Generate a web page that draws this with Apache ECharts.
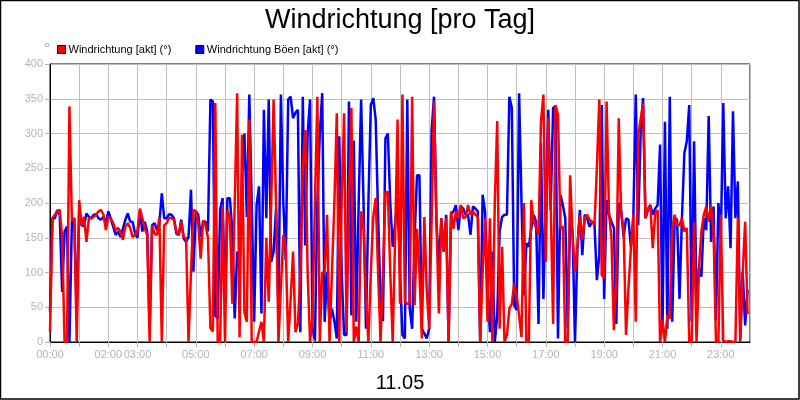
<!DOCTYPE html>
<html>
<head>
<meta charset="utf-8">
<title>Windrichtung</title>
<script src="https://cdn.jsdelivr.net/npm/echarts@6/dist/echarts.min.js"></script>
<style>
html,body{margin:0;padding:0;background:#fff;}
#chart{width:800px;height:400px;}
</style>
</head>
<body>
<div id="chart"></div>
<script>
var titleText = 'Windrichtung [pro Tag]';
var dayText = '11.05';
var nameAkt = 'Windrichtung [akt] (°)';
var nameBoeen = 'Windrichtung Böen [akt] (°)';
var stepMin = 5; //Messintervall in Minuten

//beschriftete Stunden der x-Achse
var xLabels = ['00:00','02:00','03:00','05:00','07:00','09:00','11:00','13:00','15:00','17:00','19:00','21:00','23:00'];

//Windrichtung (alle 5 min)
var akt = [
14,178,183,188,190,151,0,0,339,175,178,0,204,168,180,144,178,178,180,183,
188,190,183,161,180,178,171,161,164,159,147,166,171,164,151,154,161,192,178,163,
154,0,168,156,154,180,0,168,171,179,178,176,159,154,173,151,149,0,100,190,
188,170,120,175,168,150,20,15,344,0,0,197,0,190,180,55,200,358,7,298,
43,29,320,0,0,0,15,29,0,150,58,200,349,200,0,80,154,135,0,60,
130,14,26,100,250,305,100,0,36,200,353,0,100,100,183,0,100,200,329,0,
200,329,14,200,337,0,22,0,188,163,60,0,100,180,207,100,0,100,216,216,
100,0,150,320,55,356,58,55,55,353,53,163,100,5,180,75,19,173,346,173,
41,178,130,178,0,188,163,188,178,197,178,180,197,183,188,183,180,0,100,178,
29,178,0,200,318,19,137,0,10,48,55,84,67,38,7,200,0,0,204,173,
164,154,317,356,115,322,200,26,341,327,163,166,0,0,240,154,100,139,183,147,
178,183,176,173,168,250,349,96,92,346,185,149,17,90,322,183,164,10,77,135,
183,29,298,320,344,178,192,197,135,185,190,0,31,0,38,34,161,183,168,168,
178,159,164,0,0,173,0,106,159,183,195,173,195,159,0,0,183,2,0,1,
1,0,0,178,0,100,173,40
];

//Windrichtung Böen (alle 5 min)
var boeen = [
43,178,178,190,183,72,159,166,0,173,178,34,188,168,167,185,180,178,183,184,
178,176,180,171,188,178,166,154,159,151,163,176,185,173,173,156,150,188,159,173,
159,19,168,171,161,171,214,178,178,184,183,178,156,154,176,149,144,151,219,101,
188,183,151,173,173,159,349,346,38,34,190,207,55,207,207,160,34,130,100,240,
300,180,356,200,29,197,224,41,334,178,349,115,130,192,50,356,200,118,349,353,
322,330,334,14,353,139,300,349,20,2,200,300,358,29,101,29,48,30,5,296,
100,10,10,346,38,290,29,200,349,200,19,200,341,351,320,180,60,30,293,300,
200,137,170,207,100,10,5,349,48,19,150,240,240,19,12,5,19,303,353,173,
110,178,130,183,0,183,188,197,161,195,192,183,183,154,195,192,188,0,212,188,
77,14,130,0,38,159,180,183,183,353,337,53,46,358,200,67,142,137,163,183,
173,26,286,62,210,334,190,337,339,5,212,197,178,19,173,159,0,135,190,125,
183,178,166,173,171,89,125,341,62,204,183,173,164,26,200,190,151,178,176,137,
178,356,168,300,351,178,190,197,183,192,197,284,14,317,19,353,29,178,176,62,
178,272,289,341,29,289,53,106,94,178,161,325,144,195,31,200,149,344,178,224,
135,332,178,231,5,101,24,75
];

var labelColor = '#b4b4b4';
var gridColor = '#c0c0c0';

//Werte mit Uhrzeit (Stunden) verbinden
function toPoints(arr){
    var pts = [];
    for(var i = 0 ; i < arr.length ; i++){
        pts.push([i * stepMin / 60, arr[i]]);
    }
    return pts;
}

function hourLabel(v){
    var s = (v < 10 ? '0' : '') + v + ':00';
    return xLabels.indexOf(s) >= 0 ? s : '';
}

var myCharts = echarts.init(document.getElementById('chart'), null, {renderer: 'canvas'});

var option = {
    animation: false,
    backgroundColor: '#fff',
    title: {
        text: titleText,
        left: 'center',
        top: 2,
        textStyle: {fontFamily: 'Liberation Sans', fontSize: 27, fontWeight: 'normal', color: '#000'}
    },
    legend: {
        left: 52,
        top: 39,
        itemWidth: 8,
        itemHeight: 8,
        itemGap: 24,
        icon: 'rect',
        data: [
            {name: nameAkt, itemStyle: {color: '#ff0000', borderColor: '#000', borderWidth: 1}},
            {name: nameBoeen, itemStyle: {color: '#0000ff', borderColor: '#000', borderWidth: 1}}
        ],
        textStyle: {fontFamily: 'Liberation Sans', fontSize: 11, color: '#000', padding: [0, 0, 0, -2]}
    },
    grid: {
        left: 50,
        right: 50,
        top: 64,
        bottom: 58,
        show: true,
        borderColor: '#000',
        borderWidth: 1
    },
    xAxis: {
        type: 'value',
        min: 0,
        max: 24,
        interval: 1,
        name: dayText,
        nameLocation: 'middle',
        nameGap: 31,
        nameTextStyle: {fontFamily: 'Liberation Sans', fontSize: 20, color: '#000'},
        axisLine: {lineStyle: {color: '#000', width: 1}},
        axisTick: {show: true, length: 5, lineStyle: {color: labelColor}},
        axisLabel: {
            margin: 7,
            color: labelColor,
            fontFamily: 'Liberation Sans',
            fontSize: 11,
            showMinLabel: true,
            showMaxLabel: false,
            formatter: hourLabel
        },
        splitLine: {show: true, lineStyle: {color: gridColor, width: 1}}
    },
    yAxis: {
        type: 'value',
        min: 0,
        max: 400,
        interval: 50,
        axisLine: {show: true, lineStyle: {color: '#000', width: 1}},
        axisTick: {show: true, length: 5, lineStyle: {color: labelColor}},
        axisLabel: {margin: 7, color: labelColor, fontFamily: 'Liberation Sans', fontSize: 11},
        splitLine: {show: true, lineStyle: {color: gridColor, width: 1}}
    },
    series: [
        {
            name: nameBoeen,
            type: 'line',
            data: toPoints(boeen),
            showSymbol: false,
            color: '#0000ff',
            lineStyle: {color: '#0000ff', width: 2.5}
        },
        {
            name: nameAkt,
            type: 'line',
            data: toPoints(akt),
            showSymbol: false,
            color: '#ff0000',
            lineStyle: {color: '#ff0000', width: 2.5}
        }
    ],
    graphic: [
        //Rahmen um das ganze Bild
        {type: 'rect', shape: {x: 0.5, y: 0.5, width: 798.5, height: 398.5}, style: {fill: null, stroke: '#000', lineWidth: 1.5}, silent: true},
        //kleines graues Kaestchen vor der Legende
        {type: 'rect', shape: {x: 45.5, y: 43.5, width: 3, height: 3}, style: {fill: '#fff', stroke: '#bbb', lineWidth: 1}, silent: true}
    ]
};

myCharts.setOption(option);
</script>
</body>
</html>
